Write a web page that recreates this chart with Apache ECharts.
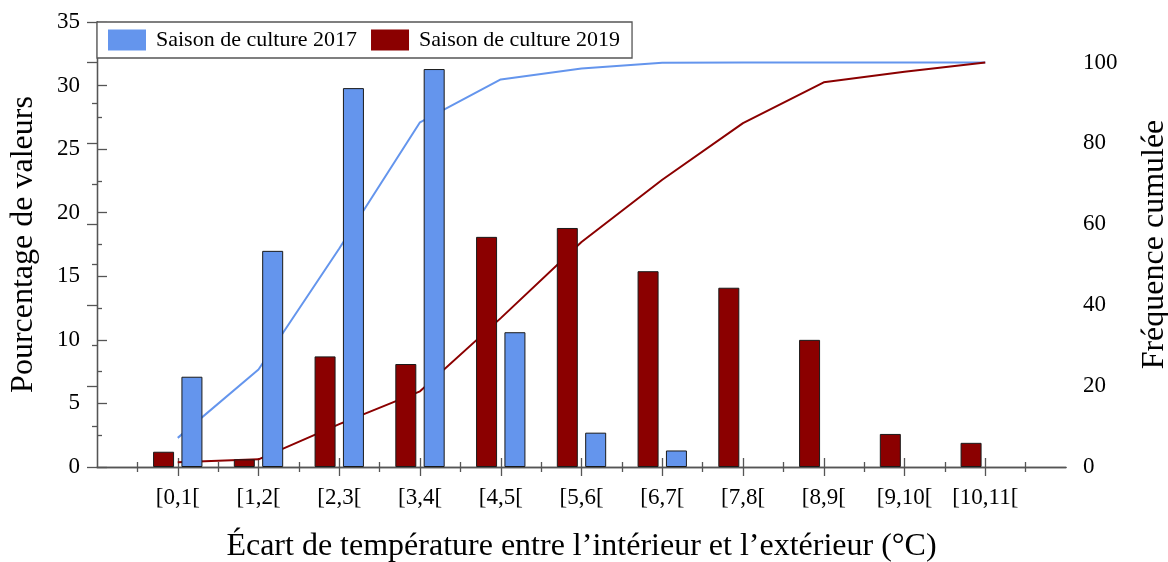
<!DOCTYPE html>
<html>
<head>
<meta charset="utf-8">
<script src="https://cdn.jsdelivr.net/npm/echarts@6/dist/echarts.min.js"></script>
<style>
  html, body { margin: 0; padding: 0; background: #fff; }
  #chart { width: 1168px; height: 562px; }
</style>
</head>
<body>
<div id="chart"></div>
<script>
// Temperature-gap classes (°C)
const categories = ['[0,1[', '[1,2[', '[2,3[', '[3,4[', '[4,5[', '[5,6[', '[6,7[', '[7,8[', '[8,9[', '[9,10[', '[10,11['];

// Share of values per class (%)
const season2017 = [7.1, 17.0, 29.8, 31.3, 10.6, 2.7, 1.3, 0, 0, 0, 0];
const season2019 = [1.2, 0.6, 8.7, 8.1, 18.1, 18.8, 15.4, 14.1, 10.0, 2.6, 1.9];

// Cumulative frequency (%)
const cumul2017 = [7.2, 24.1, 54.0, 85.2, 95.8, 98.5, 99.9, 100, 100, 100, 100];
const cumul2019 = [1.2, 1.9, 10.6, 18.7, 36.8, 55.6, 71.0, 85.0, 95.1, 97.7, 100];

const leftTicks = { min: 0, max: 35, step: 5 };
const rightTicks = { min: 0, max: 110, step: 20 };

const NAME_2017 = 'Saison de culture 2017';
const NAME_2019 = 'Saison de culture 2019';

const BLUE = '#6495ED';
const RED = '#8B0000';
const AXIS = '#555555';
const FONT = '"Liberation Serif", "DejaVu Serif", serif';

// class i is centred on x = i + 1, so the axis runs 0..12
const classPositions = categories.map((c, i) => i + 1);
const pairs = arr => arr.map((v, i) => [classPositions[i], v]);
// empty classes get no bar at all
const barPairs = arr => pairs(arr).filter(p => p[1] > 0);

// negative lengths turn the ticks towards the plot area
const majorTick = (len, extra) => Object.assign({ show: true, inside: false, length: -len, lineStyle: { color: AXIS, width: 1.3 } }, extra || {});
const minorTick = len => ({ show: true, splitNumber: 2, length: -len, lineStyle: { color: AXIS, width: 1.3 } });
const axisLine = { show: true, lineStyle: { color: AXIS, width: 1.3 } };
const tickFont = { fontFamily: FONT, fontSize: 23, color: '#000' };
const nameFont = { fontFamily: FONT, fontSize: 32, color: '#000' };

const chart = echarts.init(document.getElementById('chart'), null, { renderer: 'canvas' });
chart.setOption({
  animation: false,
  backgroundColor: '#ffffff',
  textStyle: { fontFamily: FONT, color: '#000' },
  grid: { left: 97, right: 102, top: 22, bottom: 95, containLabel: false, outerBoundsMode: 'none' },
  legend: {
    data: [NAME_2017, NAME_2019],
    left: 97,
    top: 22,
    orient: 'horizontal',
    icon: 'rect',
    itemWidth: 38,
    itemHeight: 21,
    itemGap: 14,
    padding: [7, 12, 7, 11],
    borderColor: AXIS,
    borderWidth: 1.3,
    borderRadius: 0,
    backgroundColor: '#ffffff',
    itemStyle: { borderWidth: 0 },
    textStyle: { fontFamily: FONT, fontSize: 22, color: '#000', padding: [0, 0, 0, 5] },
    z: 10
  },
  xAxis: [
    {
      type: 'value',
      position: 'bottom',
      min: 0,
      max: 12,
      interval: 1,
      axisLine: axisLine,
      axisTick: majorTick(9, { customValues: classPositions }),
      minorTick: minorTick(5),
      splitLine: { show: false },
      minorSplitLine: { show: false },
      axisLabel: Object.assign({}, tickFont, {
        margin: 19,
        customValues: classPositions,
        formatter: v => categories[v - 1] || ''
      }),
      name: 'Écart de température entre l’intérieur et l’extérieur (°C)',
      nameLocation: 'middle',
      nameGap: 64,
      nameTextStyle: nameFont
    },
    {
      type: 'value',
      position: 'top',
      min: 0,
      max: 12,
      interval: 1,
      axisLine: axisLine,
      axisTick: majorTick(9, { customValues: classPositions }),
      minorTick: minorTick(5),
      splitLine: { show: false },
      axisLabel: { show: false }
    }
  ],
  yAxis: [
    {
      type: 'value',
      position: 'left',
      min: leftTicks.min,
      max: leftTicks.max,
      interval: leftTicks.step,
      axisLine: axisLine,
      axisTick: majorTick(10),
      minorTick: minorTick(5),
      splitLine: { show: false },
      axisLabel: Object.assign({}, tickFont, { margin: 17 }),
      name: 'Pourcentage de valeurs',
      nameLocation: 'middle',
      nameGap: 57,
      nameTextStyle: nameFont
    },
    {
      type: 'value',
      position: 'right',
      min: rightTicks.min,
      max: rightTicks.max,
      interval: rightTicks.step,
      axisLine: axisLine,
      axisTick: majorTick(10),
      minorTick: minorTick(5),
      splitLine: { show: false },
      axisLabel: Object.assign({}, tickFont, { margin: 17, showMaxLabel: false }),
      name: 'Fréquence cumulée',
      nameLocation: 'middle',
      nameGap: 73,
      nameTextStyle: nameFont
    }
  ],
  series: [
    {
      name: NAME_2019,
      type: 'bar',
      xAxisIndex: 0,
      yAxisIndex: 0,
      data: barPairs(season2019),
      barWidth: 21,
      barGap: '35%',
      itemStyle: { color: RED, borderColor: '#1a1a1a', borderWidth: 1 },
      z: 3
    },
    {
      name: NAME_2017,
      type: 'bar',
      xAxisIndex: 0,
      yAxisIndex: 0,
      data: barPairs(season2017),
      barWidth: 21,
      barGap: '35%',
      itemStyle: { color: BLUE, borderColor: '#1a1a1a', borderWidth: 1 },
      z: 3
    },
    {
      name: 'cumul 2017',
      type: 'line',
      xAxisIndex: 0,
      yAxisIndex: 1,
      data: pairs(cumul2017),
      symbol: 'none',
      lineStyle: { color: BLUE, width: 2 },
      itemStyle: { color: BLUE },
      z: 1
    },
    {
      name: 'cumul 2019',
      type: 'line',
      xAxisIndex: 0,
      yAxisIndex: 1,
      data: pairs(cumul2019),
      symbol: 'none',
      lineStyle: { color: RED, width: 2 },
      itemStyle: { color: RED },
      z: 1
    }
  ]
});
</script>
</body>
</html>
